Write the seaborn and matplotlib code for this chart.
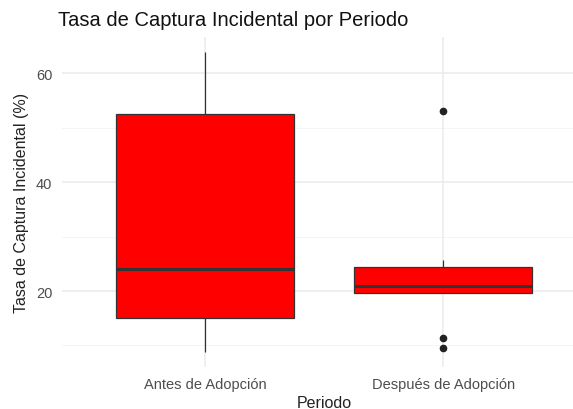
import numpy as np
import pandas as pd
import matplotlib
matplotlib.use("Agg")
import matplotlib.pyplot as plt
import seaborn as sns

# Data
periodos = ["Antes de Adopción", "Después de Adopción"]
tasa_antes = [8.8, 15.0, 24.0, 52.5, 63.9]
tasa_despues = [9.5, 11.4, 19.6, 20.3, 20.9, 22.0, 24.4, 25.7, 53.0]
y_major = [20, 40, 60]
y_minor = [10, 30, 50]

df = pd.DataFrame({
    "Periodo": [periodos[0]] * len(tasa_antes) + [periodos[1]] * len(tasa_despues),
    "Tasa": tasa_antes + tasa_despues,
})

sns.set_style("white")
plt.rcParams["font.family"] = ["Liberation Sans", "DejaVu Sans"]

fig = plt.figure(figsize=(5.73, 4.10), dpi=100)
ax = fig.add_axes([62 / 573, 1 - 368 / 410, 524 / 573, 330 / 410])

# grid like ggplot theme_minimal
for v in y_minor:
    ax.axhline(v, color="#F2F2F2", lw=0.6, zorder=0)
for v in y_major:
    ax.axhline(v, color="#EBEBEB", lw=1.1, zorder=0)
for i in range(len(periodos)):
    ax.axvline(i, color="#EBEBEB", lw=1.1, zorder=0)

sns.boxplot(
    data=df, x="Periodo", y="Tasa", order=periodos, ax=ax,
    color="#FF0000", saturation=1, width=0.75, linecolor="#333333",
    linewidth=0.9, whis=1.5, showcaps=False,
    medianprops=dict(color="#333333", linewidth=2.2),
    flierprops=dict(marker="o", markersize=4.5, markerfacecolor="#222222",
                    markeredgecolor="#222222"),
)

ax.set_xlim(-0.6, 1.6)
ax.set_ylim(6.05, 66.65)
ax.set_yticks(y_major)
for s in ax.spines.values():
    s.set_visible(False)
ax.tick_params(axis="both", length=0, labelsize=10.5, colors="#4D4D4D")
ax.tick_params(axis="y", pad=7)
ax.tick_params(axis="x", pad=7)

ax.set_xlabel("Periodo", fontsize=11.5, color="#222222", labelpad=3)
ax.set_ylabel("Tasa de Captura Incidental (%)", fontsize=11.5, color="#222222", labelpad=5)
fig.text(58 / 573, 1 - 20 / 410, "Tasa de Captura Incidental por Periodo",
         fontsize=14.5, color="#111111", ha="left", va="center")

fig.savefig("out.png", dpi=100)
